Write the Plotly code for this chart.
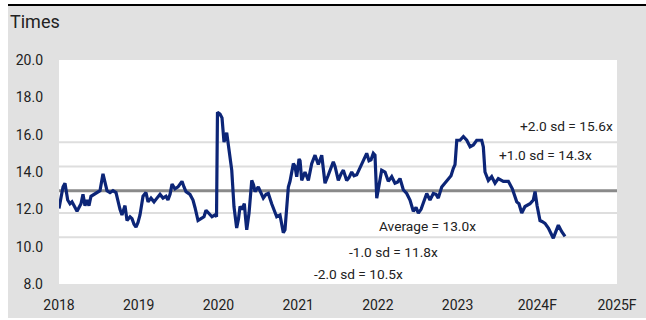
import plotly.graph_objects as go

# ---- data ----
years = [
    2018.000, 2018.025, 2018.050, 2018.075, 2018.094, 2018.109, 2018.138, 2018.163, 2018.188, 2018.226,
    2018.251, 2018.276, 2018.301, 2018.326, 2018.351, 2018.376, 2018.401, 2018.439, 2018.477, 2018.514,
    2018.552, 2018.577, 2018.602, 2018.640, 2018.677, 2018.715, 2018.740, 2018.765, 2018.790, 2018.828,
    2018.853, 2018.891, 2018.916, 2018.941, 2018.966, 2018.991, 2019.016, 2019.054, 2019.091, 2019.117,
    2019.154, 2019.192, 2019.229, 2019.267, 2019.305, 2019.342, 2019.367, 2019.393, 2019.418, 2019.455,
    2019.493, 2019.543, 2019.568, 2019.593, 2019.643, 2019.681, 2019.706, 2019.744, 2019.781, 2019.819,
    2019.844, 2019.881, 2019.919, 2019.957, 2019.976, 2019.988, 2020.020, 2020.045, 2020.070, 2020.104,
    2020.120, 2020.145, 2020.167, 2020.195, 2020.229, 2020.252, 2020.271, 2020.296, 2020.325, 2020.341,
    2020.355, 2020.384, 2020.418, 2020.441, 2020.459, 2020.500, 2020.534, 2020.563, 2020.597, 2020.626,
    2020.668, 2020.697, 2020.731, 2020.772, 2020.797, 2020.814, 2020.835, 2020.854, 2020.877, 2020.898,
    2020.917, 2020.940, 2020.961, 2020.982, 2021.011, 2021.024, 2021.045, 2021.086, 2021.128, 2021.170,
    2021.212, 2021.253, 2021.296, 2021.337, 2021.375, 2021.400, 2021.441, 2021.463, 2021.504, 2021.538,
    2021.567, 2021.609, 2021.638, 2021.672, 2021.701, 2021.735, 2021.764, 2021.797, 2021.826, 2021.860,
    2021.889, 2021.914, 2021.943, 2021.964, 2021.986, 2022.002, 2022.027, 2022.048, 2022.090, 2022.131,
    2022.174, 2022.215, 2022.246, 2022.278, 2022.319, 2022.362, 2022.403, 2022.445, 2022.479, 2022.508,
    2022.542, 2022.570, 2022.613, 2022.654, 2022.696, 2022.730, 2022.758, 2022.801, 2022.843, 2022.884,
    2022.918, 2022.947, 2022.968, 2022.990, 2023.031, 2023.073, 2023.115, 2023.157, 2023.198, 2023.240,
    2023.303, 2023.323, 2023.344, 2023.386, 2023.428, 2023.470, 2023.511, 2023.574, 2023.637, 2023.687,
    2023.742, 2023.770, 2023.805, 2023.846, 2023.909, 2023.950, 2023.972, 2023.997, 2024.013, 2024.034,
    2024.059, 2024.097, 2024.139, 2024.172, 2024.201, 2024.223, 2024.264, 2024.307, 2024.348,
]
pe_ratio = [
    12.05, 12.6, 13.2, 13.4, 13.0, 12.5, 12.3, 12.4, 12.2, 11.9,
    12.1, 12.3, 12.8, 12.2, 12.5, 12.2, 12.7, 12.8, 12.9, 13.0,
    13.9, 13.5, 13.0, 12.9, 13.0, 12.9, 12.4, 12.0, 11.7, 12.2,
    11.4, 11.6, 11.5, 11.2, 11.05, 11.3, 11.7, 12.7, 12.9, 12.4,
    12.6, 12.4, 12.6, 12.8, 12.6, 12.7, 12.5, 12.8, 13.35, 13.1,
    13.2, 13.5, 13.2, 12.95, 12.8, 12.5, 12.1, 11.4, 11.5, 11.6,
    11.95, 11.8, 11.6, 11.7, 11.6, 17.2, 17.1, 16.9, 15.6, 16.1,
    15.55, 14.6, 14.1, 12.15, 11.0, 11.5, 12.15, 12.0, 12.3, 11.5,
    10.9, 11.8, 13.55, 13.3, 12.95, 13.2, 12.9, 12.6, 12.8, 12.85,
    12.3, 12.0, 11.6, 11.7, 11.1, 10.75, 10.9, 12.0, 13.2, 13.5,
    13.9, 14.45, 14.3, 13.75, 14.7, 14.6, 13.55, 14.0, 13.55, 14.45,
    14.9, 14.4, 14.9, 13.4, 13.8, 14.1, 14.55, 14.3, 13.55, 13.9,
    14.1, 13.55, 13.7, 14.0, 13.8, 13.85, 14.1, 14.45, 14.7, 15.0,
    14.6, 14.65, 15.0, 14.9, 12.6, 13.0, 13.4, 14.1, 14.0, 13.5,
    13.75, 13.4, 13.45, 13.65, 13.05, 12.85, 12.5, 11.9, 12.1, 11.8,
    12.0, 12.3, 12.85, 12.5, 12.85, 12.8, 12.6, 13.2, 13.4, 13.65,
    13.8, 14.2, 14.4, 15.7, 15.7, 15.9, 15.7, 15.35, 15.45, 15.7,
    15.7, 15.35, 14.0, 13.55, 13.75, 13.4, 13.65, 13.5, 13.5, 13.1,
    12.4, 12.3, 11.8, 12.15, 12.3, 12.5, 12.95, 12.2, 11.8, 11.4,
    11.35, 11.25, 11.0, 10.7, 10.45, 10.7, 11.15, 10.8, 10.55,
]
average = 13.0
sd_levels = [15.6, 14.3, 11.8, 10.5]
band_labels = ["+2.0 sd = 15.6x", "+1.0 sd = 14.3x", "Average = 13.0x",
               "-1.0 sd = 11.8x", "-2.0 sd = 10.5x"]
x_range = [2018, 2025]
x_tick_vals = [2018, 2019, 2020, 2021, 2022, 2023, 2024, 2025]
x_tick_text = ["2018", "2019", "2020", "2021", "2022", "2023", "2024F", "2025F"]
y_tick_vals = [8, 10, 12, 14, 16, 18, 20]

# ---- layout geometry (pixels) ----
W, H = 646, 320
L, R, T, B = 59, 617, 60, 284


def px(x):
    return (x - L) / (R - L)


def py(y):
    return (B - y) / (B - T)


FONT = "Roboto"
TXT = "#222222"
PANEL = "#e1e1e1"

fig = go.Figure()
# standard-deviation reference lines (drawn first, beneath everything)
for lvl in sd_levels:
    fig.add_trace(go.Scatter(x=x_range, y=[lvl, lvl], mode="lines",
                             line=dict(color="#dedede", width=2),
                             showlegend=False, hoverinfo="skip"))
# average line
fig.add_trace(go.Scatter(x=x_range, y=[average, average], mode="lines",
                         line=dict(color="#8a8a8a", width=3),
                         showlegend=False, hoverinfo="skip"))
# main series
fig.add_trace(go.Scatter(
    x=years, y=pe_ratio, mode="lines",
    line=dict(color="#0c2577", width=3.2),
    showlegend=False, hoverinfo="skip",
))

shapes = [
    # white outer strips (left, top, bottom) around the gray panel
    dict(type="rect", xref="paper", yref="paper", x0=px(-2), x1=px(8),
         y0=py(-2), y1=py(H + 2), fillcolor="#ffffff", line=dict(width=0)),
    dict(type="rect", xref="paper", yref="paper", x0=px(-2), x1=px(W + 2),
         y0=py(-2), y1=py(5), fillcolor="#ffffff", line=dict(width=0)),
    dict(type="rect", xref="paper", yref="paper", x0=px(-2), x1=px(W + 2),
         y0=py(318), y1=py(H + 2), fillcolor="#ffffff", line=dict(width=0)),
    # top black rule
    dict(type="line", xref="paper", yref="paper", x0=px(8), x1=px(W + 2),
         y0=py(5), y1=py(5), line=dict(color="#000000", width=2.2)),
]

ann_pos = [
    (615, 126, "right"),
    (497, 155, "left"),
    (377, 226, "left"),
    (347, 252, "left"),
    (312, 274, "left"),
]
annotations = [
    dict(text="Times", x=px(8), y=py(22), xref="paper", yref="paper", xanchor="left",
         yanchor="middle", showarrow=False, font=dict(family=FONT, size=18, color=TXT)),
]
for (ax, ay, anc), txt in zip(ann_pos, band_labels):
    annotations.append(dict(text=txt, x=px(ax), y=py(ay), xref="paper", yref="paper",
                            xanchor=anc, yanchor="middle", showarrow=False,
                            font=dict(family=FONT, size=13.7, color=TXT)))

fig.update_layout(
    width=W, height=H,
    margin=dict(l=L, r=W - R, t=T, b=H - B, pad=0, autoexpand=False),
    paper_bgcolor=PANEL, plot_bgcolor="#ffffff",
    font=dict(family=FONT, size=14, color=TXT),
    shapes=shapes, annotations=annotations,
    xaxis=dict(range=x_range, tickvals=x_tick_vals, ticktext=x_tick_text,
               showgrid=False, zeroline=False, showline=False, ticks="",
               automargin=False,
               ticklabelstandoff=11, tickfont=dict(size=14, color=TXT)),
    yaxis=dict(range=[8, 20], tickvals=y_tick_vals, tickformat=".1f",
               showgrid=False, zeroline=False, showline=False, ticks="",
               automargin=False,
               ticklabelstandoff=15, tickfont=dict(size=14, color=TXT)),
)

fig.write_html("out.html")
